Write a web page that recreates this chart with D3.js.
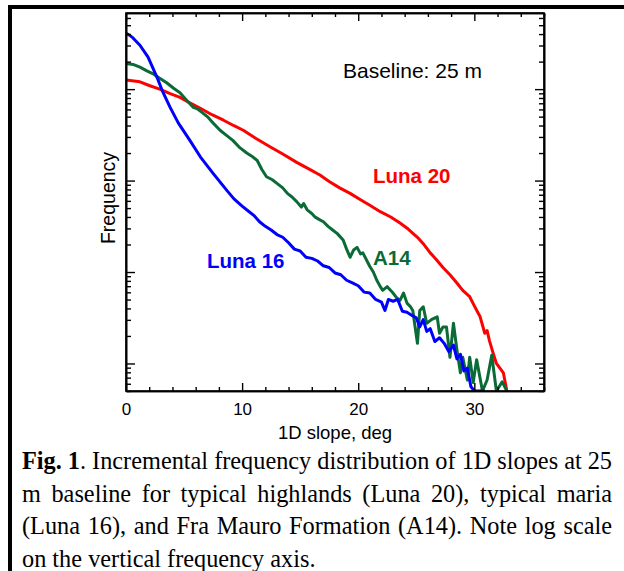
<!DOCTYPE html>
<html><head><meta charset="utf-8">
<script src="https://cdn.jsdelivr.net/npm/d3@7"></script>
<style>html,body{margin:0;padding:0;background:#fff;} svg{display:block;}</style>
</head><body>
<svg id="c" width="624" height="571"></svg>
<script>
// ---------- DATA ----------
const luna16Slope = [0,0.3,0.6,1.2,1.9,2.7,3.1,3.8,4.5,5.5,6.4,7.5,8.7,9.3,10,10.5,11,11.5,12,12.5,13,13.5,14,14.5,15,15.5,16,16.5,17,17.5,18,18.5,19,19.5,20,20.5,21,21.5,22,22.3,22.6,23,23.4,23.8,24.2,24.7,25,25.3,25.6,25.9,26.2,26.6,27,27.4,27.8,28.2,28.5,28.8,29.1,29.4,29.7,30,30.9];
const luna16Freq  = [4070,3890,3630,3020,2240,1320,977,631,427,275,182,120,77.6,63.1,52.5,46.8,41.7,35.5,31.6,28.8,25.7,24.0,20.9,17.8,17.0,14.5,14.1,13.2,11.7,11.2,9.77,9.33,8.13,7.59,7.08,6.03,5.89,5.01,4.68,3.80,5.01,4.79,5.01,3.72,3.63,3.31,3.16,2.51,3.02,2.24,2.40,1.74,1.91,1.66,1.35,1.59,1.12,1.26,0.83,0.89,0.56,0.5,0.5];

const luna20Slope = [0,1.2,2,2.9,3.8,4.65,5.5,6.4,7.4,8.4,9.3,10.1,11.2,12.4,13.5,14.7,15.7,16.7,17.5,18.4,19.3,20.2,21,21.9,22.8,23.6,24.3,25.1,25.6,26.2,26.7,27.3,27.9,28.5,29,29.6,30,30.5,30.9,31.1,31.3,31.6,31.9,32.2,32.5,32.8];
const luna20Freq  = [1259,1202,1096,1000,891,813,708,617,525,457,398,355,288,234,195,158,135,115,97.7,83.2,72.4,61.7,53.7,45.7,40.0,34.3,29.5,24.0,20.4,16.2,13.8,11.2,9.33,7.59,6.31,5.37,4.27,3.24,2.14,2.29,1.78,1.32,1.00,0.89,0.79,0.5];

const a14Slope = [0,0.6,1.2,1.8,2.3,2.9,3.5,4.1,4.65,5.2,5.8,6.2,6.6,7,7.5,8.1,8.6,9.2,9.8,10.4,10.8,11.3,11.7,12.1,12.6,13,13.5,13.9,14.3,14.7,15.1,15.3,15.6,16,16.3,16.7,17,17.4,17.8,18.2,18.7,19,19.3,19.6,19.9,20.2,20.4,21,21.3,21.6,21.9,22.1,22.5,23,23.3,23.6,23.9,24.2,24.5,24.7,24.9,25.1,25.3,25.6,25.9,26.3,26.8,27,27.3,27.6,27.9,28.2,28.5,28.8,29,29.4,29.6,29.9,30.2,30.7,31.1,31.5,31.9,32.4,32.8];
const a14Freq  = [1905,1862,1738,1585,1479,1318,1175,1023,912,759,631,603,550,501,427,355,316,275,229,200,186,166,132,110,102,93.3,83.2,72.4,66.1,58.9,51.3,56.2,47.9,43.7,39.8,37.2,35.5,31.6,28.8,26.3,22.4,17.8,14.5,17.4,18.6,15.8,16.2,11.5,10.0,8.13,6.92,6.31,6.92,5.89,5.25,4.90,5.89,4.57,4.17,3.80,2.51,1.66,3.80,4.17,2.75,3.02,3.24,2.14,2.51,2.51,1.17,2.75,1.41,0.79,1.17,0.66,1.17,0.62,1.10,0.50,0.66,1.23,0.50,0.63,0.50];

const seriesNames  = ["Luna 20", "A14", "Luna 16"];
const seriesColors = ["#ff0000", "#0b6b36", "#0000ff"];
const xTickLabels  = [0, 10, 20, 30];
const xDomain = [0, 36];
const yDomain = [0.5, 6800];
const xLabel = "1D slope, deg";
const yLabel = "Frequency";
const noteText = "Baseline: 25 m";
const captionLines = [
  [[["Fig.",true]],[["1",true],[".",false]],"Incremental","frequency","distribution","of","1D","slopes","at","25"],
  ["m","baseline","for","typical","highlands","(Luna","20),","typical","maria"],
  ["(Luna","16),","and","Fra","Mauro","Formation","(A14).","Note","log","scale"],
  ["on","the","vertical","frequency","axis."]
];

// ---------- DRAW ----------
const svg = d3.select("#c");
const L = 126, R = 544, T = 13, B = 391;
const x = d3.scaleLinear().domain(xDomain).range([L, R]);
const y = d3.scaleLog().domain(yDomain).range([B, T]).clamp(true);

// outer frame (page border)
svg.append("line").attr("x1",8).attr("x2",624).attr("y1",7).attr("y2",7).attr("stroke","#000").attr("stroke-width",4);
svg.append("line").attr("x1",10).attr("x2",10).attr("y1",5).attr("y2",571).attr("stroke","#000").attr("stroke-width",4);

// clip
svg.append("clipPath").attr("id","pc").append("rect").attr("x",L).attr("y",T-2).attr("width",R-L).attr("height",B-T+2);

const series = [
  {name: seriesNames[0], color: seriesColors[0], xs: luna20Slope, ys: luna20Freq},
  {name: seriesNames[1], color: seriesColors[1], xs: a14Slope, ys: a14Freq},
  {name: seriesNames[2], color: seriesColors[2], xs: luna16Slope, ys: luna16Freq}
];
const line = d3.line().x(d => x(d[0])).y(d => y(d[1]));
const g = svg.append("g").attr("clip-path","url(#pc)");
series.forEach(s => {
  g.append("path").datum(s.xs.map((v,i)=>[v, s.ys[i]]))
    .attr("d", line).attr("fill","none").attr("stroke", s.color)
    .attr("stroke-width", 3).attr("stroke-linejoin","round");
});

// axes
const minorX = d3.range(xDomain[0], xDomain[1] + 0.001, 2);
const axStyle = sel => { sel.selectAll("path").attr("stroke","#000").attr("stroke-width",1.6); sel.selectAll("line").attr("stroke","#000").attr("stroke-width",1.4); };

const bottomMinor = svg.append("g").attr("transform",`translate(0,${B})`)
  .call(d3.axisBottom(x).tickValues(minorX.filter(v=>v%10!==0)).tickSize(-4).tickSizeOuter(0).tickFormat(""));
axStyle(bottomMinor);
const bottomMajor = svg.append("g").attr("transform",`translate(0,${B})`)
  .call(d3.axisBottom(x).tickValues(xTickLabels).tickSize(-8).tickSizeOuter(0).tickPadding(16));
axStyle(bottomMajor);
bottomMajor.selectAll("text").attr("font-family","'Liberation Sans', Arial, sans-serif").attr("font-size",17).attr("fill","#000").attr("dy","0.71em").attr("y",12);

const topMinor = svg.append("g").attr("transform",`translate(0,${T})`)
  .call(d3.axisTop(x).tickValues(minorX.filter(v=>v%10!==0)).tickSize(-4).tickSizeOuter(0).tickFormat(""));
axStyle(topMinor);
const topMajor = svg.append("g").attr("transform",`translate(0,${T})`)
  .call(d3.axisTop(x).tickValues(xTickLabels).tickSize(-8).tickSizeOuter(0).tickFormat(""));
axStyle(topMajor);

const decades = [1, 10, 100, 1000];
const minorY = [];
[0.1, 1, 10, 100, 1000].forEach(d => { for (let k = 2; k <= 9; k++) { const v = d*k; if (v >= yDomain[0] && v <= yDomain[1]) minorY.push(v); } });

const leftMinor = svg.append("g").attr("transform",`translate(${L},0)`)
  .call(d3.axisLeft(y).tickValues(minorY).tickSize(-5).tickSizeOuter(0).tickFormat(""));
axStyle(leftMinor);
const leftMajor = svg.append("g").attr("transform",`translate(${L},0)`)
  .call(d3.axisLeft(y).tickValues(decades).tickSize(-9).tickSizeOuter(0).tickFormat(""));
axStyle(leftMajor);
const rightMinor = svg.append("g").attr("transform",`translate(${R},0)`)
  .call(d3.axisRight(y).tickValues(minorY).tickSize(-5).tickSizeOuter(0).tickFormat(""));
axStyle(rightMinor);
const rightMajor = svg.append("g").attr("transform",`translate(${R},0)`)
  .call(d3.axisRight(y).tickValues(decades).tickSize(-9).tickSizeOuter(0).tickFormat(""));
axStyle(rightMajor);

// plot frame
svg.append("rect").attr("x",L).attr("y",T).attr("width",R-L).attr("height",B-T)
  .attr("fill","none").attr("stroke","#000").attr("stroke-width",1.6);

const sans = "'Liberation Sans', Arial, Helvetica, sans-serif";
// axis titles
svg.append("text").attr("x", 335).attr("y", 439).attr("text-anchor","middle")
  .attr("font-family", sans).attr("font-size", 18.5).text(xLabel);
svg.append("text").attr("transform","translate(115,198) rotate(-90)").attr("text-anchor","middle")
  .attr("font-family", sans).attr("font-size", 19.5).text(yLabel);

// note
svg.append("text").attr("x", 343).attr("y", 78).attr("font-family", sans).attr("font-size", 21).text(noteText);

// series labels
const labelPos = [[373,183],[373,265],[207,268]];
series.forEach((s,i) => {
  svg.append("text").attr("x", labelPos[i][0]).attr("y", labelPos[i][1])
    .attr("font-family", sans).attr("font-weight","bold").attr("font-size", 20.5)
    .attr("fill", s.color).text(s.name);
});

// caption (justified)
const serif = "'Liberation Serif', 'Times New Roman', Times, serif";
const capLeft = 22, capRight = 612, capY0 = 469, capDy = 32.5, capSize = 24.3;
captionLines.forEach((words, li) => {
  const yy = capY0 + li*capDy;
  const nodes = words.map(w => {
    const t = svg.append("text").attr("y", yy).attr("font-family", serif).attr("font-size", capSize).attr("fill","#000");
    const parts = typeof w === "string" ? [[w,false]] : w;
    parts.forEach(p => t.append("tspan").attr("font-weight", p[1] ? "bold" : "normal").text(p[0]));
    return t;
  });
  const widths = nodes.map(n => n.node().getComputedTextLength());
  const total = d3.sum(widths);
  const last = li === captionLines.length - 1;
  const spaceW = capSize * 0.25;
  const gap = last ? spaceW : (capRight - capLeft - total) / (words.length - 1);
  let cx = capLeft;
  nodes.forEach((n,i) => { n.attr("x", cx); cx += widths[i] + gap; });
});
</script>
</body></html>
